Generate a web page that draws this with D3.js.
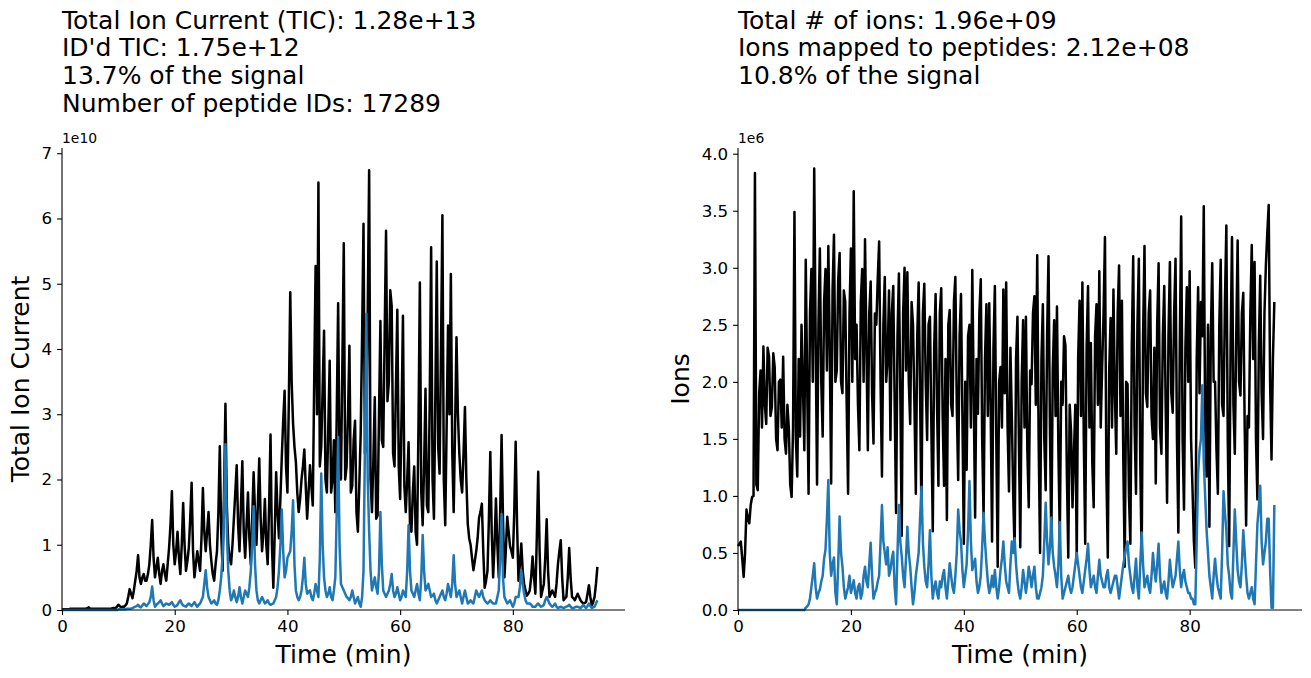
<!DOCTYPE html>
<html><head><meta charset="utf-8">
<script src="https://cdn.jsdelivr.net/npm/d3@7"></script>
<style>
body{margin:0;background:#fff;}
svg{display:block;font-family:"DejaVu Sans",sans-serif;}
</style></head>
<body><svg id="chart" width="1311" height="678"></svg>
<script>
// sampling grid (minutes)
const times = d3.range(0, 95.001, 0.25);

// Left panel: Total Ion Current (units of 1e10)
const ticTotal = [
0.01,0.01,0.01,0.01,0.01,0.01,0.02,0.02,0.02,0.02,0.02,0.02,0.02,0.02,0.02,0.02,0.02,0.02,0.03,0.04,
0.02,0.02,0.02,0.02,0.02,0.02,0.02,0.02,0.02,0.02,0.02,0.02,0.02,0.02,0.02,0.02,0.03,0.03,0.03,0.05,
0.08,0.06,0.04,0.05,0.05,0.07,0.1,0.2,0.32,0.25,0.18,0.3,0.45,0.6,0.84,0.5,0.4,0.5,0.55,0.45,
0.45,0.55,0.7,1.0,1.38,0.8,0.5,0.65,0.8,0.55,0.4,0.6,0.7,0.55,0.45,0.7,0.95,1.3,1.82,1.0,
0.7,0.9,1.2,0.8,0.55,1.0,1.64,1.0,0.6,0.75,0.95,1.4,1.95,0.9,0.5,0.7,0.9,0.75,0.6,1.1,
1.87,1.2,0.9,1.2,1.5,1.0,0.75,0.55,0.45,0.7,0.9,1.5,2.51,1.2,0.6,1.8,3.16,1.6,1.0,0.8,
0.7,1.0,1.4,1.8,2.22,1.3,0.9,1.6,2.28,1.2,0.8,1.3,1.8,1.1,0.7,1.4,2.11,1.5,1.0,1.6,
2.32,1.4,0.9,1.2,1.7,1.0,0.7,1.6,2.69,1.0,0.34,1.2,2.11,1.5,1.1,1.7,2.34,2.9,3.36,2.2,
1.8,3.2,4.87,3.5,2.86,2.5,2.27,1.8,1.5,1.7,2.0,2.2,2.46,1.9,1.4,1.8,2.22,1.9,1.6,3.5,
5.27,3.0,6.55,2.2,2.5,3.4,4.28,2.0,1.8,2.8,3.82,1.8,2.0,2.6,1.5,3.0,4.70,2.2,2.0,3.8,
5.62,2.0,2.2,3.0,4.05,1.8,1.9,2.6,2.9,1.5,1.2,1.9,2.7,4.2,5.92,2.4,2.5,4.6,6.74,2.0,
1.5,2.3,3.26,1.4,1.45,3.0,4.43,2.6,2.5,4.2,5.81,3.2,3.5,4.9,4.66,2.4,2.2,3.4,4.60,2.2,
1.7,3.0,4.51,1.9,1.5,2.0,2.57,1.3,1.2,1.8,2.2,1.2,1.0,2.8,5.02,1.8,1.3,2.2,3.39,1.6,
1.5,3.2,5.56,2.0,1.4,3.3,5.34,2.5,2.09,4.0,6.05,2.0,1.3,2.8,4.36,3.0,5.15,2.4,1.5,2.8,
4.18,3.0,2.4,2.0,1.8,2.4,3.11,2.0,1.32,1.1,1.0,0.8,0.61,0.75,0.9,1.1,1.41,1.5,1.63,0.9,
0.34,0.45,0.6,1.4,2.42,1.2,0.5,1.0,1.71,1.0,0.5,1.5,2.68,1.4,0.5,0.9,1.43,1.2,0.98,0.9,
0.8,1.5,2.58,1.3,0.45,0.7,1.02,0.6,0.4,0.3,0.22,0.25,0.3,0.5,0.82,0.5,0.25,1.1,2.12,0.9,
0.2,0.3,0.4,0.8,1.39,0.6,0.2,0.25,0.3,0.25,0.2,0.4,0.7,0.9,1.07,0.5,0.15,0.18,0.2,0.5,
0.95,0.5,0.2,0.18,0.15,0.2,0.25,0.2,0.15,0.12,0.1,0.11,0.12,0.25,0.38,0.2,0.07,0.12,0.2,0.4,
0.66];
const ticIdentified = [
0,0,0,0,0,0,0,0,0,0,0,0,0,0,0,0,0,0,0,0,
0,0,0,0,0,0,0,0,0,0,0,0,0,0,0,0,0,0,0,0,
0.01,0.01,0.01,0.01,0.01,0.01,0.02,0.02,0.02,0.02,0.03,0.04,0.05,0.06,0.08,0.05,0.04,0.07,0.1,0.08,
0.06,0.09,0.12,0.2,0.36,0.15,0.05,0.08,0.1,0.12,0.15,0.1,0.06,0.08,0.1,0.09,0.08,0.1,0.12,0.08,
0.05,0.06,0.08,0.12,0.15,0.1,0.07,0.06,0.05,0.08,0.1,0.08,0.06,0.09,0.12,0.08,0.05,0.08,0.1,0.15,
0.2,0.4,0.61,0.35,0.2,0.15,0.1,0.12,0.15,0.1,0.08,0.15,0.3,0.5,0.84,1.5,2.54,1.2,0.6,0.3,
0.15,0.2,0.3,0.2,0.12,0.2,0.35,0.2,0.1,0.2,0.3,0.25,0.2,0.35,0.6,1.0,1.59,0.7,0.3,0.15,
0.1,0.15,0.2,0.15,0.1,0.12,0.15,0.1,0.08,0.09,0.1,0.15,0.2,0.35,0.6,1.0,1.54,0.9,0.5,0.6,
0.8,0.85,0.9,1.2,1.68,0.7,0.3,0.2,0.15,0.2,0.3,0.5,0.8,0.4,0.25,0.28,0.3,0.2,0.15,0.25,
0.4,0.3,0.2,0.8,2.09,1.0,0.5,0.3,0.2,0.25,0.35,0.2,0.15,0.3,0.5,1.5,2.65,1.0,0.4,0.35,
0.3,0.25,0.2,0.18,0.15,0.2,0.3,0.2,0.1,0.15,0.2,0.1,0.05,0.2,0.6,2.5,4.54,2.0,1.2,0.6,
0.3,0.4,0.5,0.35,0.25,0.6,1.5,0.7,0.3,0.25,0.2,0.25,0.3,0.4,0.55,0.3,0.2,0.25,0.35,0.25,
0.15,0.2,0.3,0.25,0.2,0.6,1.3,0.6,0.3,0.25,0.2,0.3,0.4,0.25,0.15,0.5,1.15,0.6,0.3,0.35,
0.4,0.3,0.2,0.22,0.25,0.15,0.1,0.15,0.2,0.25,0.3,0.2,0.15,0.25,0.4,0.3,0.2,0.4,0.84,0.4,
0.2,0.25,0.3,0.2,0.1,0.2,0.3,0.2,0.1,0.12,0.15,0.12,0.1,0.2,0.3,0.25,0.2,0.25,0.3,0.2,
0.15,0.12,0.1,0.12,0.15,0.12,0.1,0.1,0.1,0.2,0.3,0.8,1.47,0.5,0.2,0.15,0.1,0.12,0.15,0.1,
0.05,0.1,0.2,0.2,0.2,0.35,0.61,0.4,0.25,0.15,0.1,0.1,0.1,0.08,0.05,0.05,0.05,0.08,0.1,0.07,
0.05,0.06,0.08,0.15,0.2,0.15,0.1,0.07,0.05,0.07,0.1,0.05,0.03,0.04,0.05,0.04,0.03,0.04,0.05,0.06,
0.08,0.05,0.03,0.03,0.04,0.05,0.05,0.04,0.03,0.05,0.08,0.05,0.03,0.06,0.1,0.06,0.03,0.04,0.05,0.1,
0.15];

// Right panel: ion counts (units of 1e6)
const ionsTotal = [
0.56,0.58,0.6,0.45,0.29,0.5,0.88,0.8,0.76,0.92,0.99,1.0,3.83,1.1,1.05,1.9,2.1,1.6,2.31,1.8,
1.63,2.3,2.22,1.7,1.78,2.25,2.13,1.5,1.4,2.0,2.02,1.6,2.22,1.5,1.37,1.8,1.6,1.1,0.99,1.6,
3.49,1.5,1.17,2.2,1.52,2.5,1.96,1.4,3.07,2.0,1.02,2.6,2.99,2.0,3.87,2.4,1.1,2.5,3.17,2.0,
1.52,2.7,2.99,2.1,3.19,2.3,1.11,2.8,3.29,2.0,2.1,2.9,3.13,2.0,1.9,2.8,2.7,1.8,1.02,2.6,
3.17,2.0,3.67,2.2,2.5,1.8,1.4,2.7,2.99,2.0,3.25,2.3,1.4,2.6,2.88,1.9,1.46,2.6,2.5,2.9,
3.23,2.0,1.17,2.5,2.92,2.0,2.2,2.8,1.49,2.6,2.84,1.8,0.85,2.4,2.95,1.9,0.65,2.6,3.0,2.1,
2.96,2.0,1.63,2.7,2.5,1.8,1.02,2.4,2.87,1.9,0.81,2.6,2.86,2.0,1.49,2.5,2.57,1.6,0.69,2.3,
2.77,1.8,1.09,2.6,2.82,1.7,1.09,2.2,0.79,2.5,2.63,1.8,1.7,2.7,2.92,1.8,1.14,2.4,2.77,1.7,
0.58,2.0,1.23,2.4,2.5,1.6,2.98,1.9,0.81,2.2,1.72,2.6,2.9,1.5,0.81,2.2,2.68,1.7,2.69,1.8,
0.6,2.3,2.84,1.5,0.38,2.0,2.13,1.6,2.81,1.9,2.87,1.6,1.04,2.3,1.7,1.0,0.5,2.2,2.57,1.5,
0.55,2.0,2.54,1.6,2.57,1.4,0.9,2.1,1.98,2.6,2.75,1.8,3.11,1.5,0.5,2.2,2.68,1.5,1.05,2.4,
3.1,1.6,0.58,2.1,2.54,1.7,2.66,1.4,0.64,2.0,1.8,2.4,2.32,1.2,0.46,1.8,1.56,0.9,1.37,1.8,
0.43,2.2,2.71,1.7,2.87,1.5,0.58,2.3,2.84,1.6,2.34,1.3,0.9,2.4,2.68,1.8,2.97,1.6,2.13,2.6,
3.27,1.2,0.46,2.1,2.56,1.6,2.81,1.9,1.37,2.6,3.02,1.7,2.71,1.3,0.38,2.0,1.98,1.0,0.58,2.3,
3.1,1.6,1.02,2.5,3.08,1.3,0.44,2.4,3.19,1.9,1.78,2.6,2.8,1.7,1.5,2.3,1.11,2.5,3.04,1.6,
1.37,2.4,2.84,1.8,0.94,2.4,3.05,1.9,1.73,2.6,3.08,1.5,0.68,2.3,3.45,1.5,0.88,2.3,2.83,2.0,
2.97,1.5,1.07,0.6,0.37,2.2,2.83,1.9,2.7,2.4,3.54,1.6,1.17,2.5,0.73,2.4,3.04,2.0,2.0,1.4,
1.02,2.5,3.07,1.8,1.7,2.7,3.37,1.5,0.56,2.3,3.27,1.8,1.37,2.4,3.24,2.0,1.88,2.6,2.78,1.6,
0.74,1.7,1.6,2.6,3.2,2.2,3.05,1.5,0.97,2.3,2.93,1.9,1.5,2.6,3.02,3.3,3.55,2.0,1.32,2.2,
2.7];
const ionsMapped = [
0,0,0,0,0,0,0,0,0,0,0,0,0,0,0,0,0,0,0,0,
0,0,0,0,0,0,0,0,0,0,0,0,0,0,0,0,0,0,0,0,
0,0,0,0,0,0,0,0,0.02,0.03,0.05,0.1,0.2,0.3,0.41,0.2,0.1,0.15,0.18,0.25,
0.3,0.45,0.53,0.8,1.14,0.5,0.3,0.4,0.46,0.15,0.05,0.4,0.82,0.5,0.38,0.2,0.1,0.15,0.2,0.3,
0.15,0.2,0.26,0.15,0.1,0.2,0.23,0.1,0.15,0.3,0.38,0.25,0.2,0.4,0.59,0.3,0.1,0.15,0.18,0.25,
0.3,0.6,0.92,0.6,0.5,0.4,0.55,0.3,0.35,0.45,0.51,0.2,0.05,0.5,0.92,0.6,0.47,0.3,0.2,0.45,
0.73,0.5,0.38,0.2,0.05,0.15,0.3,0.4,0.5,0.8,1.08,0.6,0.38,0.25,0.2,0.4,0.7,0.3,0.1,0.2,
0.25,0.15,0.1,0.25,0.2,0.3,0.35,0.2,0.1,0.25,0.41,0.3,0.2,0.15,0.3,0.5,0.88,0.7,0.6,0.35,
0.2,0.3,0.4,0.7,1.13,0.6,0.35,0.4,0.45,0.25,0.15,0.2,0.3,0.55,0.85,0.6,0.41,0.25,0.15,0.2,
0.3,0.2,0.35,0.2,0.1,0.2,0.35,0.45,0.6,0.4,0.25,0.2,0.15,0.4,0.6,0.5,0.63,0.4,0.25,0.15,
0.1,0.2,0.35,0.25,0.15,0.25,0.38,0.3,0.2,0.3,0.38,0.2,0.1,0.1,0.15,0.2,0.3,0.6,0.94,0.6,
0.4,0.55,0.81,0.5,0.38,0.3,0.2,0.4,0.77,0.3,0.1,0.15,0.2,0.25,0.3,0.2,0.15,0.2,0.3,0.4,
0.5,0.4,0.3,0.2,0.15,0.25,0.35,0.45,0.58,0.35,0.2,0.25,0.3,0.2,0.15,0.3,0.44,0.3,0.25,0.2,
0.2,0.3,0.35,0.2,0.15,0.2,0.25,0.3,0.3,0.2,0.1,0.2,0.3,0.4,0.47,0.55,0.6,0.4,0.3,0.2,
0.15,0.3,0.45,0.2,0.1,0.4,0.68,0.4,0.2,0.25,0.3,0.2,0.15,0.3,0.5,0.35,0.25,0.4,0.58,0.3,
0.15,0.2,0.25,0.15,0.1,0.25,0.44,0.3,0.2,0.25,0.3,0.45,0.6,0.35,0.2,0.3,0.35,0.25,0.2,0.15,
0.15,0.1,0.1,0.05,0.05,0.6,1.2,1.4,1.5,1.97,1.3,1.0,0.7,0.5,0.3,0.2,0.1,0.3,0.45,0.3,
0.2,0.15,0.1,0.5,1.04,0.85,0.7,0.4,0.3,0.15,0.1,0.5,0.88,0.6,0.35,0.25,0.2,0.4,0.7,0.5,
0.3,0.15,0.1,0.15,0.2,0.1,0.05,0.4,0.75,0.9,1.09,0.6,0.4,0.5,0.6,0.8,0.8,0.35,0.02,0.02,
0.92];

const xTicks = [0, 20, 40, 60, 80];
const leftYTicks = [0, 1, 2, 3, 4, 5, 6, 7];
const rightYTicks = [0, 0.5, 1.0, 1.5, 2.0, 2.5, 3.0, 3.5, 4.0];
const leftTitle = ["Total Ion Current (TIC): 1.28e+13", "ID'd TIC: 1.75e+12", "13.7% of the signal", "Number of peptide IDs: 17289"];
const rightTitle = ["Total # of ions: 1.96e+09", "Ions mapped to peptides: 2.12e+08", "10.8% of the signal"];

const svg = d3.select("#chart");
const plotTop = 148, plotBottom = 610;

function panel(opts) {
  const x = d3.scaleLinear().domain([0, 99.9]).range([opts.left, opts.right]);
  const y = d3.scaleLinear().domain([0, opts.ymax]).range([plotBottom, plotTop]);
  const g = svg.append("g");

  const line = vals => d3.line().x((d, i) => x(times[i])).y(d => y(d))(vals);
  g.append("path").attr("d", line(opts.total)).attr("fill", "none")
    .attr("stroke", "#000").attr("stroke-width", 2.5).attr("stroke-linejoin", "round");
  g.append("path").attr("d", line(opts.sub)).attr("fill", "none")
    .attr("stroke", "#1f77b4").attr("stroke-width", 2.5).attr("stroke-linejoin", "round");

  const xa = g.append("g").attr("transform", `translate(0,${plotBottom})`)
    .call(d3.axisBottom(x).tickValues(xTicks).tickSize(4.9).tickPadding(4.9).tickFormat(d3.format("d")));
  const ya = g.append("g").attr("transform", `translate(${opts.left},0)`)
    .call(d3.axisLeft(y).tickValues(opts.yticks).tickSize(4.9).tickPadding(4.9).tickFormat(opts.yfmt));
  [xa, ya].forEach(a => {
    a.selectAll("path.domain").attr("stroke", "#000").attr("stroke-width", 1.1).attr("d",
      a === xa ? `M${opts.left},0H${opts.right}` : `M0,${plotBottom}V${plotTop}`);
    a.selectAll("line").attr("stroke", "#000").attr("stroke-width", 1.1);
    a.selectAll("text").attr("fill", "#000").style("font-size", "16.7px").style("font-family", "DejaVu Sans");
  });

  g.append("text").attr("x", opts.left).attr("y", 143).text(opts.offset)
    .style("font-size", "13.9px").attr("fill", "#000");
  g.append("text").attr("x", (opts.left + opts.right) / 2).attr("y", 663).attr("text-anchor", "middle")
    .style("font-size", "25px").text("Time (min)");
  g.append("text").attr("transform", `translate(${opts.ylabX},${(plotTop + plotBottom) / 2}) rotate(-90)`)
    .attr("text-anchor", "middle").style("font-size", "25px").text(opts.ylabel);

  const t = g.append("text").style("font-size", "25px").attr("fill", "#000");
  opts.title.forEach((s, i) => t.append("tspan").attr("x", opts.left).attr("y", 28.5 + i * 27.7).text(s));
}

panel({left: 62, right: 625, ymax: 7.08, total: ticTotal, sub: ticIdentified, yticks: leftYTicks,
  yfmt: d3.format("d"), offset: "1e10", ylabel: "Total Ion Current", ylabX: 29, title: leftTitle});
panel({left: 738, right: 1302, ymax: 4.05, total: ionsTotal, sub: ionsMapped, yticks: rightYTicks,
  yfmt: d3.format(".1f"), offset: "1e6", ylabel: "Ions", ylabX: 689, title: rightTitle});
</script></body></html>
